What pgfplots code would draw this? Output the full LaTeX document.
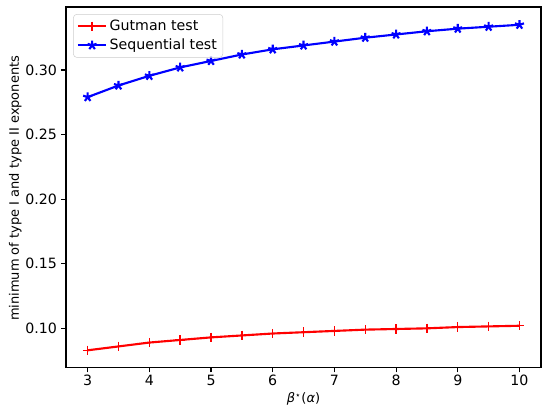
\documentclass[border=0pt]{standalone}
\usepackage{fontspec}
\setmainfont{DejaVu Sans}
\usepackage{pgfplots}
\pgfplotsset{compat=1.18}

\begin{document}
\begin{tikzpicture}
\begin{axis}[
  name=ax,
  scale only axis,
  width=402pt, height=305pt,
  xmin=2.65, xmax=10.35,
  ymin=0.0698, ymax=0.3488,
  xtick={3,4,...,10},
  ytick={0.10,0.15,0.20,0.25,0.30},
  yticklabel style={/pgf/number format/.cd, fixed, fixed zerofill, precision=2},
  /pgf/number format/assume math mode=true,
  tick align=outside,
  major tick length=4.2pt,
  tick style={line width=0.96pt, black},
  axis line style={line width=0.96pt},
  xtick pos=bottom, ytick pos=left,
  font=\fontsize{12}{14}\selectfont,
  tick label style={font=\fontsize{12}{14}\selectfont},
  xticklabel style={yshift=1pt},
  xlabel={\textit{β}\textsuperscript{⋆}(\textit{α})},
  ylabel={minimum of type I and type II exponents},
  xlabel style={font=\fontsize{11}{13}\selectfont, at={(rel axis cs:0.5,0)}, anchor=center, yshift=-27pt},
  ylabel style={font=\fontsize{11}{13}\selectfont, at={(rel axis cs:0,0.5)}, anchor=center, xshift=-1pt, yshift=43pt},
  legend cell align=left,
  legend image code/.code={\draw[mark repeat=2,mark phase=2] plot coordinates {(0cm,0cm) (0.42cm,0cm) (0.84cm,0cm)};},
  legend style={at={(0,1)}, anchor=north west, xshift=6pt, yshift=-6pt,
    draw=black!20, rounded corners=3pt, fill=white, fill opacity=0.8, text opacity=1,
    font=\fontsize{12}{14}\selectfont, row sep=1.5pt, inner sep=3pt},
]
\addplot[red, line width=1.8pt, mark=+, mark size=4pt, mark options={line width=1.2pt}] coordinates {
  (3,0.083) (3.5,0.086) (4,0.089) (4.5,0.091) (5,0.093) (5.5,0.0945) (6,0.096)
  (6.5,0.097) (7,0.098) (7.5,0.099) (8,0.0995) (8.5,0.100) (9,0.101) (9.5,0.1015) (10,0.102)
};
\addlegendentry{Gutman test}
\addplot[blue, line width=1.8pt, mark=star, mark size=4pt, mark options={line width=1.8pt}] coordinates {
  (3,0.279) (3.5,0.288) (4,0.2955) (4.5,0.302) (5,0.307) (5.5,0.312) (6,0.316)
  (6.5,0.319) (7,0.322) (7.5,0.325) (8,0.3275) (8.5,0.330) (9,0.332) (9.5,0.3335) (10,0.335)
};
\addlegendentry{Sequential test}
\end{axis}
\path (ax.south west) +(-55.9pt,-34.7pt) (ax.north east) +(2.5pt,5.9pt);
\end{tikzpicture}
\end{document}
